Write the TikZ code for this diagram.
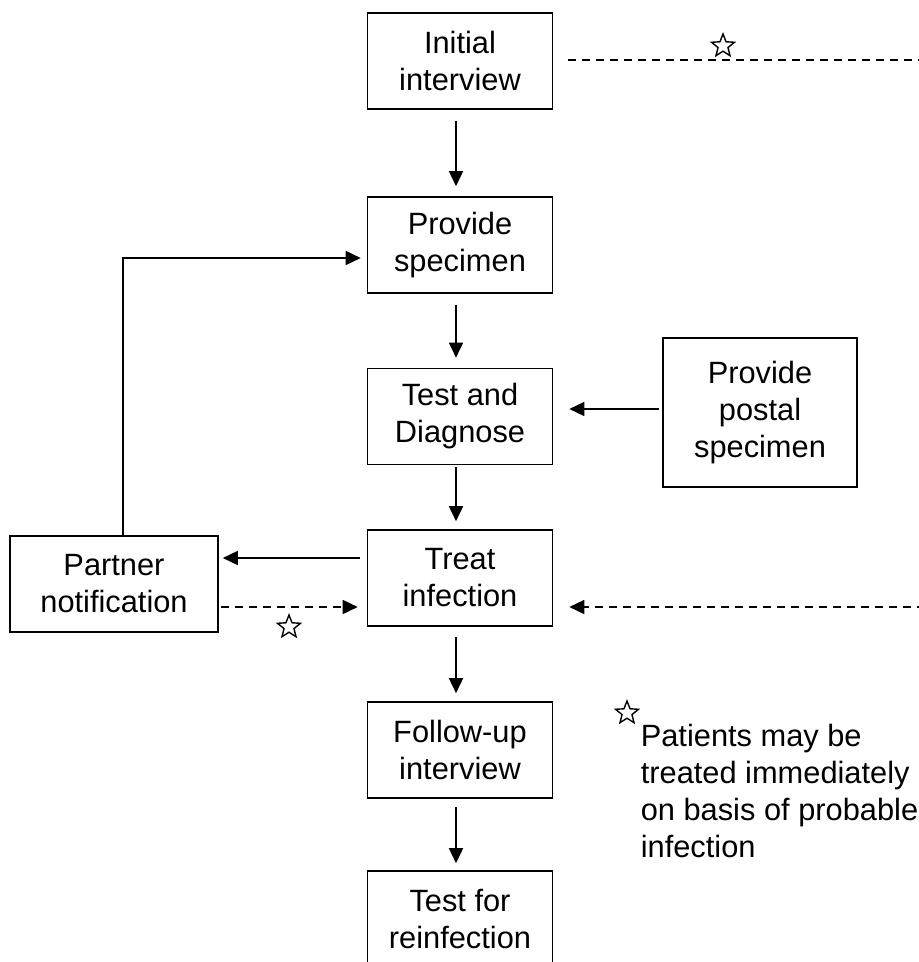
\documentclass[tikz,border=0pt]{standalone}
\usepackage{fontspec}
\setmainfont{Liberation Sans}
\usetikzlibrary{arrows.meta, shapes.geometric}

\begin{document}
\begin{tikzpicture}[x=0.5pt, y=-0.5pt, line width=0.8pt,
    font=\fontsize{15.4}{18.5}\selectfont,
    box/.style={draw, align=center, minimum width=92.5pt, minimum height=48pt, inner sep=2pt},
    flow/.style={-{Triangle[length=7.5pt,width=7pt]}},
    dashline/.style={dash pattern=on 4pt off 3pt},
    maybe/.style={flow, dashline},
    mark star/.style={draw, star, star points=5, star point ratio=2.3,
        minimum size=12pt, inner sep=0pt, line width=0.7pt}]
    \clip (0,0) rectangle (919,962);

    % main column
    \node[box] (initial) at (460,61) {Initial\\interview};
    \node[box] (specimen) at (460,245) {Provide\\specimen};
    \node[box] (diagnose) at (460,416.5) {Test and\\Diagnose};
    \node[box] (treat) at (460,578) {Treat\\infection};
    \node[box] (followup) at (460,750) {Follow-up\\interview};
    \node[box] (retest) at (460,919) {Test for\\reinfection};

    % side boxes
    \node[box, minimum width=97pt, minimum height=74.5pt] (postal) at (760,412.5) {Provide\\postal\\specimen};
    \node[box, minimum width=104pt] (partner) at (114,584) {Partner\\notification};

    \draw[flow, shorten <=5.5pt, shorten >=5pt] ([xshift=-2pt]initial.south) -- ([xshift=-2pt]specimen.north);
    \draw[flow, shorten <=5.5pt, shorten >=5pt] ([xshift=-2pt]specimen.south) -- ([xshift=-2pt]diagnose.north);
    \draw[flow, shorten <=1pt, shorten >=4pt] ([xshift=-2pt]diagnose.south) -- ([xshift=-2pt]treat.north);
    \draw[flow, shorten <=5pt, shorten >=4pt] ([xshift=-2pt]treat.south) -- ([xshift=-2pt]followup.north);
    \draw[flow, shorten <=4pt, shorten >=3.5pt] ([xshift=-2pt]followup.south) -- ([xshift=-2pt]retest.north);

    \draw[flow, shorten <=1.5pt, shorten >=8pt] ([yshift=1.75pt]postal.west) -- ([yshift=1.75pt]postal.west -| diagnose.east);
    \draw[flow, shorten <=3.5pt, shorten >=2pt] ([yshift=10pt]treat.west) -- ([yshift=10pt]treat.west -| partner.east);
    \draw[maybe, shorten <=1pt, shorten >=4.5pt] ([yshift=-14.5pt]treat.west -| partner.east) -- ([yshift=-14.5pt]treat.west);
    \draw[flow, shorten >=3pt] ([xshift=4.5pt]partner.north) |- ([yshift=-6.5pt]specimen.west);

    % dashed lines running off the page
    \coordinate (topedge) at (925,60);
    \coordinate (lowedge) at (925,607);
    \draw[dashline, shorten <=7.5pt] ([yshift=0.5pt]initial.east) -- (topedge);
    \draw[maybe, shorten >=8pt] (lowedge) -- (lowedge -| treat.east);

    % stars and note
    \node[mark star] (topstar) at (723,46) {};
    \node[mark star] (partnerstar) at (289,627) {};
    \node[mark star] (notestar) at (627,713) {};
    \node[anchor=north west, align=left, inner sep=0pt] (note) at (640,723)
        {Patients may be\\treated immediately\\on basis of probable\\infection};
\end{tikzpicture}
\end{document}
